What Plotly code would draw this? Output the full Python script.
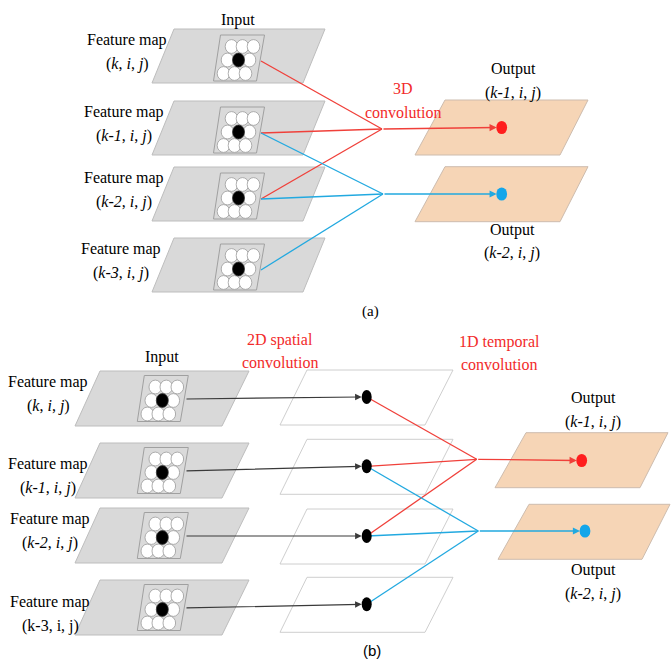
import plotly.graph_objects as go

# ---- diagram content -------------------------------------------------------
input_ids = ["k", "k-1", "k-2", "k-3"]          # input feature-map indices
output_ids = ["k-1", "k-2"]                      # output feature-map indices
output_sources = [[0, 1, 2], [1, 2, 3]]          # inputs feeding each output
output_colors = ["#f0403a", "#22a9e0"]           # connection colour per output
dot_colors = ["#ff1e1e", "#14a6ea"]
italic_last_b = False                             # "(k-3, i, j)" upright in panel b
conv_a = ["3D", "convolution"]
conv_b1 = ["2D spatial", "convolution"]
conv_b2 = ["1D temporal", "convolution"]

# ---- layout geometry (pixel space) ----------------------------------------
W, H = 671, 664
FONT = "Liberation Serif, Times New Roman, serif"
GRAY_FILL, GRAY_LINE = "#d9d9d9", "#bdbdbd"
PEACH_FILL, PEACH_LINE = "#f6d5b6", "#cdbcae"
RED_TXT = "#f22a2a"
FS = 16

shapes, annos = [], []


def para(xtl, xtr, xbl, xbr, yt, yb, fill, line, lw=1.0):
    shapes.append(dict(type="path",
                       path=f"M {xtl},{yt} L {xtr},{yt} L {xbr},{yb} L {xbl},{yb} Z",
                       fillcolor=fill, line=dict(color=line, width=lw), layer="above"))


def ellipse(cx, cy, rx, ry, fill, line="rgba(0,0,0,0)", lw=0.8):
    shapes.append(dict(type="circle", x0=cx - rx, x1=cx + rx, y0=cy - ry, y1=cy + ry,
                       fillcolor=fill, line=dict(color=line, width=lw), layer="above"))


def seg(x0, y0, x1, y1, color, w=1.3):
    shapes.append(dict(type="line", x0=x0, y0=y0, x1=x1, y1=y1,
                       line=dict(color=color, width=w), layer="above"))


def arrow(x0, y0, x1, y1, color, w=1.3):
    annos.append(dict(x=x1, y=y1, ax=x0, ay=y0, xref="x", yref="y", axref="x", ayref="y",
                      text="", showarrow=True, arrowhead=2, arrowsize=1.1,
                      arrowwidth=w, arrowcolor=color, standoff=0))


def text(x, y, s, color="black", size=FS, family=FONT):
    annos.append(dict(x=x, y=y, xref="x", yref="y", text=s, showarrow=False,
                      font=dict(family=family, size=size, color=color),
                      xanchor="center", yanchor="middle"))


def kernel(cx, cy):
    # 3x3 receptive field drawn on a feature map
    para(cx - 18, cx + 26, cx - 25, cx + 18, cy - 25, cy + 21, "#dadada", "#a0a0a0", 1)
    for r in (-1, 0, 1):
        for c in (-1, 0, 1):
            if r == 0 and c == 0:
                continue
            ellipse(cx + 11 * c - 4 * r, cy + 13.5 * r, 6.3, 6.9, "white", "#9a9a9a", 0.8)
    ellipse(cx, cy, 6.0, 6.9, "black", "#333333", 0.8)


def fm_label(x, y, idx, italic=True):
    text(x, y - 12, "Feature map")
    parts = f"<i>{idx}</i>, <i>i</i>, <i>j</i>" if italic else f"{idx}, i, j"
    text(x, y + 12, f"({parts})")


# ---------------------------- panel (a) -------------------------------------
tops_a = [29, 101, 167, 238]
label_x_a = [127, 124, 124, 121]
starts_a = []
for i, t in enumerate(tops_a):
    para(174, 325, 152, 303, t, t + 54, GRAY_FILL, GRAY_LINE)
    kernel(238.5, t + 31)
    fm_label(label_x_a[i], t + 23, input_ids[i])
    starts_a.append((261, t + 32))
text(238, 20, "Input")

out_tops_a = [100, 166.7]
conv_pts_a = [(382, 129), (383, 194)]
dots_a = [(501.7, 127.5), (501.7, 194)]
for o, t in enumerate(out_tops_a):
    para(445, 588, 415, 560, t, t + 55, PEACH_FILL, PEACH_LINE)
for o in range(len(output_ids)):
    cx, cy = conv_pts_a[o]
    for s in output_sources[o]:
        sx, sy = starts_a[s]
        seg(sx, sy, cx, cy, output_colors[o])
    dx, dy = dots_a[o]
    arrow(cx, cy, dx - 5, dy, output_colors[o])
    ellipse(dx, dy, 5.4, 6.6, dot_colors[o])

text(403, 88, conv_a[0], RED_TXT)
text(403, 112, conv_a[1], RED_TXT)
text(513, 69, "Output")
text(513, 93, f"(<i>{output_ids[0]}</i>, <i>i</i>, <i>j</i>)")
text(512, 230, "Output")
text(512, 253, f"(<i>{output_ids[1]}</i>, <i>i</i>, <i>j</i>)")
text(370, 311, "(a)", size=15)

# ---------------------------- panel (b) -------------------------------------
tops_b = [371, 443, 508, 580]
white_tops_b = [370, 439.3, 509, 577.3]
label_y_b = [394, 476, 531, 614]
label_x_b = [48, 48, 50, 50]
mid_dots = []
for i, t in enumerate(tops_b):
    para(100, 249, 75, 222, t, t + 55, GRAY_FILL, GRAY_LINE)
    kernel(162.3, t + 29.5)
    fm_label(label_x_b[i], label_y_b[i], input_ids[i],
             italic=(i < 3 or italic_last_b))
for i, t in enumerate(white_tops_b):
    para(307, 453, 280, 425, t, t + 55, "white", "#c8c8c8", 0.9)
    mid_dots.append((366.7, t + 27))

text(162, 357, "Input")
text(280, 340, conv_b1[0], RED_TXT)
text(280, 362, conv_b1[1], RED_TXT)
text(499, 342, conv_b2[0], RED_TXT)
text(499, 364, conv_b2[1], RED_TXT)

out_b = [(432.7, 526, 668, 495, 640), (504.3, 529, 670, 498, 642)]
for t, xtl, xtr, xbl, xbr in out_b:
    para(xtl, xtr, xbl, xbr, t, t + 55, PEACH_FILL, PEACH_LINE)

conv_pts_b = [(476.7, 459.3), (478.3, 531)]
dots_b = [(581.7, 460.5), (585, 531)]
for o in range(len(output_ids)):
    cx, cy = conv_pts_b[o]
    for s in output_sources[o]:
        sx, sy = mid_dots[s]
        seg(sx, sy, cx, cy, output_colors[o])
    dx, dy = dots_b[o]
    arrow(cx, cy, dx - 5, dy, output_colors[o])
    ellipse(dx, dy, 5.4, 6.6, dot_colors[o])

for i, t in enumerate(tops_b):
    mx, my = mid_dots[i]
    arrow(185, t + 28, mx - 5, my, "#3a3a3a", 1.2)
    ellipse(mx, my, 5.0, 7.0, "black")

text(593, 398, "Output")
text(593, 422, f"(<i>{output_ids[0]}</i>, <i>i</i>, <i>j</i>)")
text(593, 570, "Output")
text(593, 594, f"(<i>{output_ids[1]}</i>, <i>i</i>, <i>j</i>)")
text(372, 650, "(b)", size=15, family="Liberation Sans Narrow, Liberation Sans, sans-serif")

fig = go.Figure()
fig.update_layout(
    width=W, height=H, margin=dict(l=0, r=0, t=0, b=0),
    paper_bgcolor="white", plot_bgcolor="white",
    xaxis=dict(range=[0, W], visible=False, fixedrange=True),
    yaxis=dict(range=[H, 0], visible=False, fixedrange=True),
    shapes=shapes, annotations=annos, showlegend=False,
)
fig.write_html("out.html")
